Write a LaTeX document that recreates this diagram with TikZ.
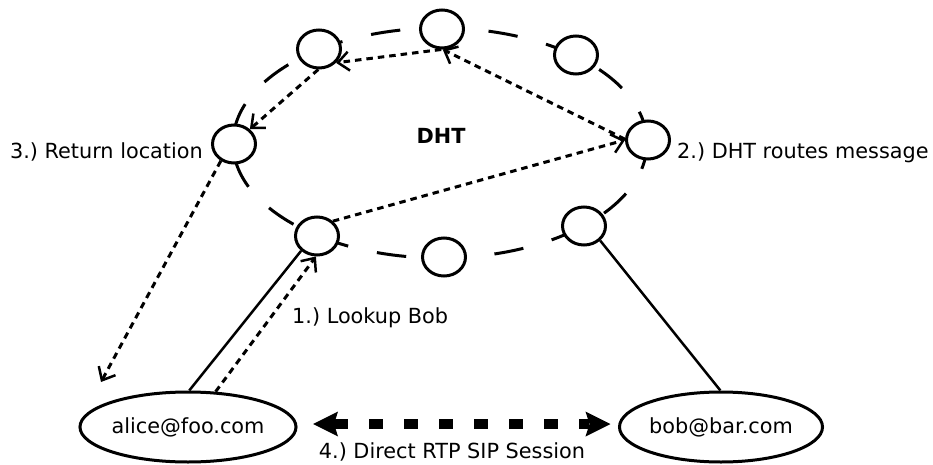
\documentclass[tikz,border=0pt]{standalone}
\usepackage{fontspec}
\setmainfont{DejaVu Sans}
\usetikzlibrary{arrows.meta,shapes.geometric}
\frenchspacing
\begin{document}
\begin{tikzpicture}[x=1pt,y=-1pt,
  every node/.style={font=\fontsize{20.8}{25}\selectfont, inner sep=0pt},
  peer/.style={draw, ellipse, line width=3pt, fill=white,
    minimum width=43pt, minimum height=38pt},
  user/.style={draw, ellipse, line width=3pt, fill=white,
    minimum width=194pt, minimum height=70pt},
  link/.style={line width=2.5pt},
  msg/.style={line width=3pt, dash pattern=on 6.5pt off 5pt,
    -{Straight Barb[length=11pt,width=19pt,line width=2.5pt]}},
  session/.style={line width=10pt, dash pattern=on 14pt off 21pt,
    {Stealth[length=25pt,width=25pt,inset=4pt,line width=0pt]}-{Stealth[length=25pt,width=25pt,inset=4pt,line width=0pt]}}
]
\useasboundingbox (0,0) rectangle (933,465);

% overlay ring of the DHT
\draw[line width=3pt, dash pattern=on 29.5pt off 29.5pt, dash phase=3pt]
  (440,143) ellipse [x radius=207, y radius=115];

% DHT peers
\node[peer] (n1) at (442,29) {};
\node[peer] (n2) at (319,49) {};
\node[peer] (n3) at (234,144) {};
\node[peer] (n4) at (317,236) {};
\node[peer] (n5) at (444,257) {};
\node[peer] (n6) at (584,226) {};
\node[peer] (n7) at (648,140) {};
\node[peer] (n8) at (576,55) {};

\node[anchor=base, font=\fontsize{20.8}{25}\selectfont\bfseries] (dht) at (441,144) {DHT};

% end users
\node[user] (alice) at (188,427) {alice@foo.com};
\node[user] (bob) at (721,427) {bob@bar.com};

% access links
\draw[link] (alice.88) -- (n4.-137);
\draw[link] (bob.91) -- (n6.-42);

% lookup path
\coordinate (ret) at (101,382);
\draw[msg] (alice.52) -- (n4.-93);
\draw[msg] (n4.43) -- (n7.180);
\draw[msg] (n7.178) -- (n1.-88);
\draw[msg] (n1.-92) -- (n2.-39);
\draw[msg] (n2.-92) -- (n3.43);
\draw[msg] (n3.-128) -- (ret);

% direct session
\draw[session, shorten <=15.5pt, shorten >=7.5pt]
  ([yshift=3pt]alice.east) -- ([yshift=3pt]bob.west);

% step labels
\node[anchor=base east] (l3) at (203,158) {3.) Return location};
\node[anchor=base west] (l2) at (677,159) {2.) DHT routes message};
\node[anchor=base west] (l1) at (292,323) {1.) Lookup Bob};
\node[anchor=base] (l4) at (452,458) {4.) Direct RTP SIP Session};
\end{tikzpicture}
\end{document}
